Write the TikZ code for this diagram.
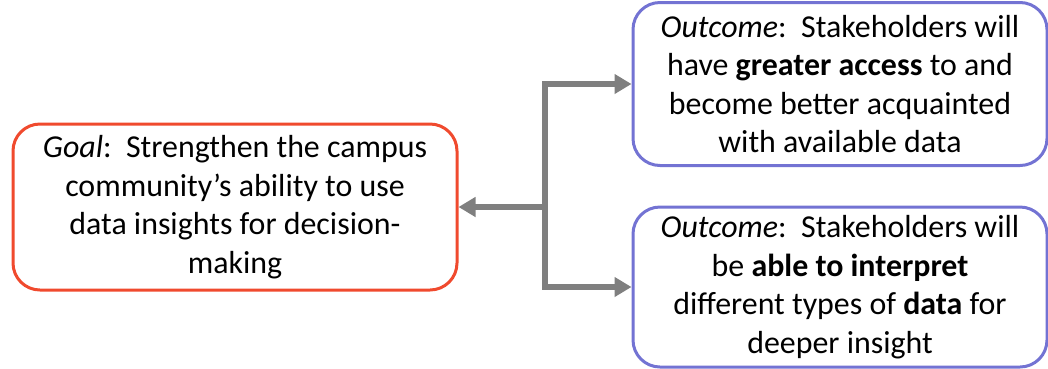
\documentclass[tikz,border=0pt]{standalone}
\usepackage{fontspec}
\setmainfont{Carlito}
\usetikzlibrary{arrows.meta}
\definecolor{goalred}{HTML}{F04A2E}
\definecolor{outblue}{HTML}{7373D3}
\definecolor{conngray}{HTML}{7F7F7F}
\tikzstyle{goalbox}=[rectangle, rounded corners=27pt, draw=goalred, line width=3pt, fill=white, align=center, inner sep=0pt, minimum width=444pt, minimum height=166pt, anchor=center]
\tikzstyle{outbox}=[rectangle, rounded corners=27pt, draw=outblue, line width=3pt, fill=white, align=center, inner sep=0pt, minimum width=414pt, anchor=center]
\tikzstyle{conn}=[draw=conngray, line width=5.5pt, -{Triangle[length=17pt,width=19pt]}]

\begin{document}
\begin{tikzpicture}[x=1pt, y=-1pt, font=\fontsize{31.9}{38.5}\selectfont]
	\useasboundingbox (0,0) rectangle (1048,368);

	\node[goalbox](goal) at (235,207){\textit{Goal}:\ \ Strengthen the campus\\ community’s ability to use\\ data insights for decision-\\ making};
	\node[outbox, minimum height=163pt](outA) at (840,84){\textit{Outcome}:\ \ Stakeholders will\\ have \textbf{greater access} to and\\ become better acquainted\\ with available data};
	\node[outbox, minimum height=160pt](outB) at (840,287){\textit{Outcome}:\ \ Stakeholders will\\ be \textbf{able to interpret}\\ different types of \textbf{data} for\\ deeper insight};

	\coordinate (fork) at (545,207);
	%\draw[conn] (fork) -- (outA.west);
	\draw[conn] (fork) |- (outA.west);
	\draw[conn] (fork) |- (outB.west);
	\draw[conn] (fork) -- (goal.east);

\end{tikzpicture}
\end{document}
